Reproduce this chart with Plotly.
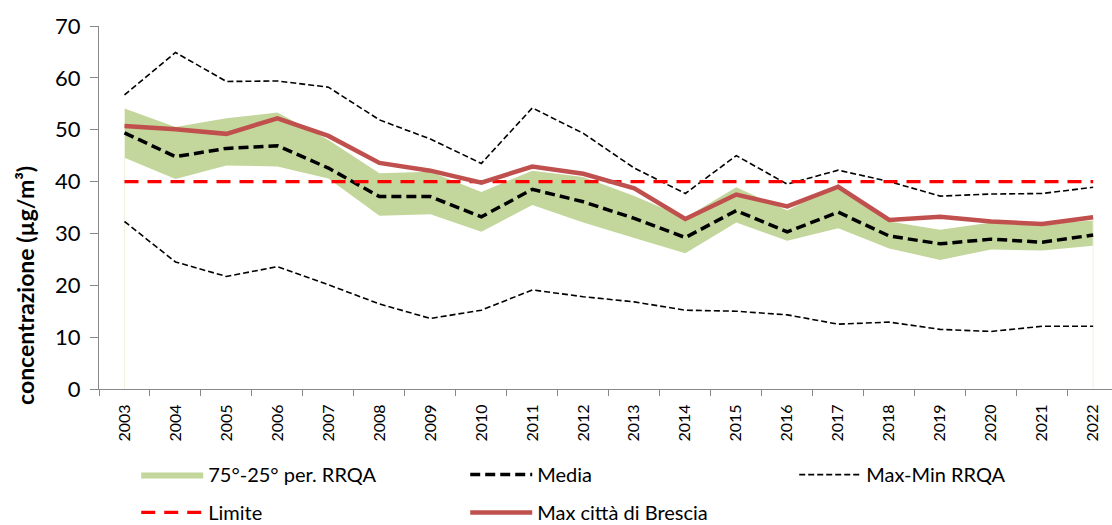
import plotly.graph_objects as go

years = [str(y) for y in range(2003, 2023)]
p75 = [54.1, 50.5, 52.2, 53.3, 48.0, 41.6, 41.9, 38.0, 42.1, 40.9, 37.2, 33.0, 38.9, 34.4, 39.5, 32.3, 30.7, 32.1, 31.8, 32.5]
p25 = [44.6, 40.5, 43.1, 42.9, 40.6, 33.4, 33.7, 30.3, 35.5, 32.1, 29.1, 26.2, 32.1, 28.6, 31.0, 27.1, 24.9, 26.9, 26.7, 27.6]
media = [49.4, 44.8, 46.4, 46.9, 42.6, 37.1, 37.1, 33.2, 38.5, 36.1, 32.9, 29.2, 34.4, 30.3, 34.1, 29.5, 28.0, 28.9, 28.3, 29.7]
max_rrqa = [56.7, 64.9, 59.3, 59.4, 58.2, 51.9, 48.2, 43.5, 54.2, 49.3, 42.6, 37.7, 45.0, 39.5, 42.2, 40.0, 37.2, 37.6, 37.7, 38.9]
min_rrqa = [32.3, 24.5, 21.7, 23.6, 20.1, 16.4, 13.6, 15.2, 19.1, 17.8, 16.8, 15.2, 15.0, 14.3, 12.5, 12.9, 11.5, 11.1, 12.1, 12.1]
brescia = [50.7, 50.1, 49.2, 52.2, 48.8, 43.6, 42.1, 39.8, 42.9, 41.5, 38.7, 32.8, 37.5, 35.2, 39.0, 32.6, 33.2, 32.3, 31.8, 33.1]
limite = [40] * len(years)

FONT = "Lato"
fig = go.Figure()

fig.add_trace(go.Scatter(x=years, y=p25, mode="lines", line=dict(width=0, color="#c3d69b"),
                         showlegend=False, hoverinfo="skip"))
fig.add_trace(go.Scatter(x=years, y=p75, mode="lines", fill="tonexty", fillcolor="#c3d69b",
                         line=dict(width=0, color="#c3d69b"), name="75°-25° per. RRQA", legend="legend"))

# faint edges of the band area down to zero
for i in (0, len(years) - 1):
    fig.add_trace(go.Scatter(x=[years[i], years[i]], y=[0, p75[i]], mode="lines",
                             line=dict(color="#eef2dc", width=1), showlegend=False, hoverinfo="skip"))

fig.add_trace(go.Scatter(x=years, y=media, mode="lines", name="Media",
                         line=dict(color="black", width=3.5, dash="10px,5px"), legend="legend"))
fig.add_trace(go.Scatter(x=years, y=max_rrqa, mode="lines", name="Max-Min RRQA", legendgroup="mm",
                         line=dict(color="black", width=1.6, dash="6px,3px"), legend="legend"))
fig.add_trace(go.Scatter(x=years, y=min_rrqa, mode="lines", name="Max-Min RRQA", legendgroup="mm",
                         showlegend=False, line=dict(color="black", width=1.6, dash="6px,3px")))
fig.add_trace(go.Scatter(x=years, y=limite, mode="lines", name="Limite",
                         line=dict(color="#ff0000", width=3.2, dash="14px,9px"), legend="legend2"))
fig.add_trace(go.Scatter(x=years, y=brescia, mode="lines", name="Max città di Brescia",
                         line=dict(color="#c0504d", width=4.5), legend="legend2"))

leg_common = dict(orientation="h", xref="container", yref="container", xanchor="left", yanchor="middle",
                  entrywidth=252, entrywidthmode="pixels", itemwidth=62,
                  font=dict(family=FONT, size=20, color="black"), bgcolor="rgba(0,0,0,0)")

fig.update_layout(
    width=1112, height=525,
    margin=dict(l=99, r=0, t=26, b=136, autoexpand=False),
    paper_bgcolor="white", plot_bgcolor="white",
    font=dict(family=FONT, color="black"),
    xaxis=dict(type="category", categoryorder="array", categoryarray=years, automargin=False,
               range=[-0.5, 19.37], tickson="boundaries", ticks="outside", ticklen=6,
               tickcolor="#888888", showline=True, linecolor="#888888", linewidth=1, showgrid=False,
               tickangle=-90, tickfont=dict(family=FONT, size=16, color="black"), zeroline=False,
               ticklabelstandoff=8),
    yaxis=dict(range=[0, 70], dtick=10, ticks="outside", ticklen=8, tickcolor="#888888", automargin=False,
               showline=True, linecolor="#888888", linewidth=1, showgrid=False, zeroline=False,
               tickfont=dict(family=FONT, size=22, color="black"), ticklabelstandoff=5),
    legend=dict(x=0.1225, y=0.096, **leg_common),
    legend2=dict(x=0.1225, y=0.024, **leg_common),
    annotations=[dict(text="<b>concentrazione (µg/m³)</b>", textangle=-90, xref="paper", yref="paper",
                      x=-0.073, y=0.284, xanchor="center", yanchor="middle", showarrow=False,
                      font=dict(family=FONT, size=23, color="black"))],
)

fig.write_html("out.html", config={"displayModeBar": False},
               post_script="document.body.style.margin='0';")
